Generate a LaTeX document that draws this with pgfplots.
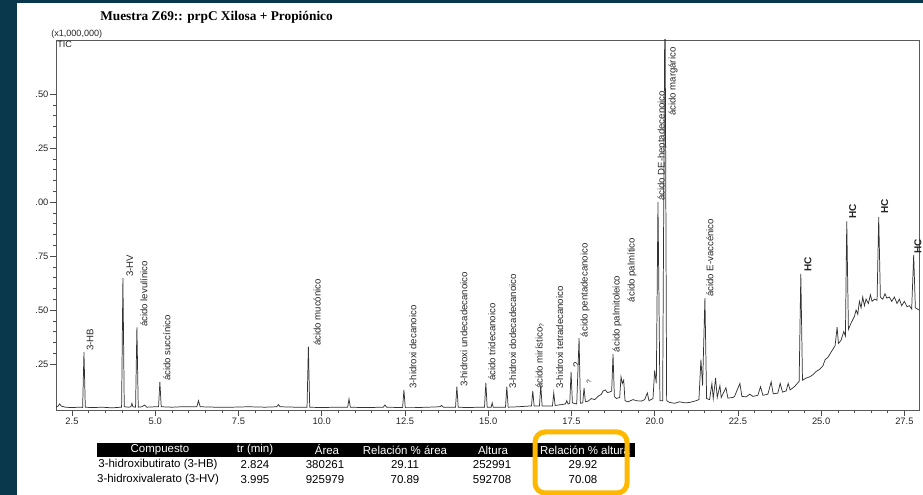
\documentclass[border=0pt]{standalone}
\usepackage{fontspec}
\setmainfont{Liberation Sans}
\newfontfamily\seriffont{Liberation Serif}
\usepackage{pgfplots}
\pgfplotsset{compat=1.18}
\definecolor{framecol}{RGB}{9,56,76}
\definecolor{gold}{RGB}{255,184,0}
\tikzset{
  lbl/.style={rotate=90, anchor=west, inner sep=0.6pt, font=\fontsize{7.2}{8}\selectfont, text=black!85},
  hc/.style={rotate=90, anchor=west, inner sep=0.6pt, font=\bfseries\fontsize{7.5}{8}\selectfont, text=black!85},
}
\begin{document}
\begin{tikzpicture}[x=0.75pt,y=0.75pt]
\useasboundingbox (0,0) rectangle (923,495);
\fill[framecol] (0,0) rectangle (923,495);
\fill[white] (17,0) rectangle (923,{495-3});
\node[font=\seriffont\bfseries\fontsize{10}{12}\selectfont, anchor=west, inner sep=0pt] at (100,{495-17.5}) {Muestra Z69:: prpC Xilosa + Propiónico};
\node[font=\fontsize{6.8}{7}\selectfont, anchor=west, inner sep=0pt, text=black!85] at (51,{495-34}) {(x1,000,000)};
\coordinate (AO) at (56,85);
\begin{axis}[
  at={(AO)}, anchor=south west,
  scale only axis, width=647.25pt, height=277.5pt,
  xmin=2.02, xmax=27.94, ymin=0.037, ymax=1.75,
  axis line style={black!65, line width=0.5pt},
  xtick={2.5,5,7.5,10,12.5,15,17.5,20,22.5,25,27.5},
  xticklabels={2.5,5.0,7.5,10.0,12.5,15.0,17.5,20.0,22.5,25.0,27.5},
  minor x tick num=4,
  ytick={0.25,0.5,0.75,1,1.25,1.5},
  yticklabels={.25,.50,.75,.00,.25,.50},
  minor y tick num=4,
  tick pos=left, tick align=outside,
  major tick length=4.5pt, minor tick length=2.3pt,
  tick style={black!70, line width=0.4pt},
  ticklabel style={font=\fontsize{7}{8}\selectfont, text=black!85},
  yticklabel style={inner sep=1pt},
  xticklabel style={inner sep=1.5pt},
]
\addplot[black!80, line width=0.55pt] coordinates {
(2.02,0.050) (2.08,0.055) (2.13,0.065) (2.18,0.055) (2.30,0.050) (2.50,0.048) (2.70,0.050) (2.82,0.049)
(2.86,0.305) (2.90,0.050) (3.10,0.048) (3.40,0.050) (3.70,0.047) (3.99,0.050) (4.03,0.648) (4.07,0.052)
(4.20,0.050) (4.27,0.052) (4.30,0.068) (4.33,0.052) (4.41,0.050) (4.45,0.420) (4.49,0.050) (4.60,0.052)
(4.68,0.060) (4.75,0.050) (5.00,0.052) (5.10,0.052) (5.14,0.167) (5.18,0.052) (5.50,0.050) (5.80,0.052)
(6.25,0.052) (6.30,0.080) (6.35,0.052) (6.80,0.050) (7.30,0.050) (7.80,0.052) (8.30,0.050) (8.65,0.052)
(8.70,0.062) (8.75,0.052) (9.20,0.050) (9.56,0.050) (9.60,0.330) (9.64,0.050) (10.00,0.048) (10.40,0.050)
(10.78,0.050) (10.82,0.088) (10.86,0.050) (11.30,0.048) (11.85,0.050) (11.90,0.060) (11.95,0.050)
(12.43,0.048) (12.47,0.130) (12.51,0.048) (12.80,0.048) (13.20,0.050) (13.55,0.052) (13.60,0.058)
(13.65,0.050) (14.02,0.050) (14.06,0.145) (14.10,0.050) (14.40,0.048) (14.70,0.050) (14.89,0.050)
(14.93,0.162) (14.97,0.050) (15.09,0.050) (15.12,0.070) (15.15,0.050) (15.52,0.050) (15.56,0.145)
(15.60,0.050) (15.90,0.052) (16.20,0.055) (16.30,0.055) (16.34,0.125) (16.38,0.055) (16.54,0.055)
(16.58,0.153) (16.62,0.055) (16.80,0.055) (16.93,0.055) (16.97,0.116) (17.01,0.058) (17.20,0.062)
(17.32,0.065) (17.36,0.080) (17.40,0.065) (17.45,0.068) (17.49,0.213) (17.53,0.070) (17.66,0.065)
(17.73,0.370) (17.77,0.068) (17.84,0.070) (17.88,0.139) (17.92,0.075) (18.00,0.078) (18.10,0.090)
(18.20,0.085) (18.30,0.100) (18.40,0.110) (18.45,0.125) (18.52,0.130) (18.58,0.118) (18.65,0.120)
(18.71,0.125) (18.75,0.296) (18.79,0.100) (18.85,0.090) (18.95,0.095) (18.99,0.190) (19.03,0.160)
(19.07,0.175) (19.11,0.080) (19.20,0.075) (19.35,0.085) (19.45,0.080) (19.60,0.078) (19.70,0.085)
(19.78,0.116) (19.83,0.080) (19.95,0.090) (20.00,0.220) (20.05,0.160) (20.10,1.000) (20.16,0.080)
(20.24,0.080) (20.31,2.000) (20.36,0.080) (20.45,0.072) (20.60,0.068) (20.75,0.075) (20.90,0.070)
(21.05,0.072) (21.20,0.078) (21.33,0.085) (21.39,0.270) (21.44,0.150) (21.51,0.555) (21.56,0.090)
(21.65,0.085) (21.72,0.160) (21.76,0.090) (21.83,0.185) (21.88,0.095) (21.96,0.150) (22.00,0.095)
(22.14,0.140) (22.20,0.092) (22.35,0.095) (22.40,0.100) (22.56,0.160) (22.62,0.100) (22.75,0.098)
(22.86,0.110) (22.95,0.100) (23.10,0.105) (23.18,0.145) (23.25,0.105) (23.40,0.110) (23.50,0.167)
(23.56,0.112) (23.70,0.115) (23.77,0.160) (23.84,0.120) (23.95,0.125) (24.01,0.160) (24.07,0.130)
(24.20,0.145) (24.34,0.170) (24.39,0.667) (24.44,0.175) (24.55,0.185) (24.65,0.190) (24.75,0.200)
(24.85,0.215) (24.95,0.225) (25.05,0.240) (25.12,0.270) (25.20,0.280) (25.28,0.300) (25.36,0.320)
(25.42,0.335) (25.48,0.420) (25.52,0.345) (25.60,0.360) (25.68,0.400) (25.73,0.380) (25.77,0.910)
(25.82,0.410) (25.90,0.440) (26.00,0.470) (26.05,0.500) (26.10,0.480) (26.15,0.540) (26.20,0.510)
(26.25,0.560) (26.30,0.520) (26.35,0.550) (26.42,0.530) (26.48,0.570) (26.53,0.540) (26.60,0.550)
(26.68,0.545) (26.73,0.930) (26.78,0.560) (26.85,0.550) (26.92,0.575) (26.97,0.555) (27.05,0.560)
(27.12,0.540) (27.20,0.560) (27.28,0.530) (27.35,0.550) (27.42,0.520) (27.50,0.540) (27.58,0.515)
(27.65,0.520) (27.72,0.505) (27.78,0.755) (27.83,0.510) (27.94,0.500)
};
\node[lbl] at (axis cs:3.04,0.306) {3-HB};
\node[lbl] at (axis cs:4.24,0.648) {3-HV};
\node[lbl] at (axis cs:4.66,0.417) {ácido levulínico};
\node[lbl] at (axis cs:5.35,0.167) {ácido succínico};
\node[lbl] at (axis cs:9.86,0.329) {ácido mucónico};
\node[lbl] at (axis cs:12.74,0.130) {3-hidroxi decanoico};
\node[lbl] at (axis cs:14.27,0.139) {3-hidroxi undecadecanoico};
\node[lbl] at (axis cs:15.11,0.167) {ácido tridecanoico};
\node[lbl] at (axis cs:15.74,0.130) {3-hidroxi dodecadecanoico};
\node[lbl] at (axis cs:16.55,0.130) {ácido mirístico\textsubscript{?}};
\node[lbl] at (axis cs:17.15,0.130) {3-hidroxi tetradecanoico};
\node[lbl] at (axis cs:17.66,0.231) {?};
\node[lbl] at (axis cs:17.91,0.370) {ácido pentadecanoico};
\node[lbl, font=\fontsize{5}{6}\selectfont] at (axis cs:18.03,0.153) {?};
\node[lbl] at (axis cs:18.87,0.300) {ácido palmitoleico};
\node[lbl] at (axis cs:19.32,0.532) {ácido palmítico};
\node[lbl] at (axis cs:20.22,1.000) {ácido DE-heptadecenoico};
\node[lbl] at (axis cs:20.55,1.394) {ácido margárico};
\node[lbl] at (axis cs:21.66,0.556) {ácido E-vaccénico};
\node[hc] at (axis cs:24.60,0.671) {HC};
\node[hc] at (axis cs:25.95,0.917) {HC};
\node[hc] at (axis cs:26.91,0.940) {HC};
\end{axis}
\node[font=\fontsize{6.8}{7}\selectfont, anchor=west, inner sep=0pt, text=black!85] at (57,{495-44}) {TIC};
\node[hc] at (918,{495-255}) {HC};
% table
\fill[black] (97,{495-443}) rectangle (635,{495-457});
\begin{scope}[every node/.style={font=\fontsize{8.6}{9}\selectfont, inner sep=0pt}]
\node[text=white] at (160,{495-450}) {Compuesto};
\node[text=white] at (255,{495-450}) {tr (min)};
\node[text=white] at (327,{495-450}) {Área};
\node[text=white] at (405,{495-450}) {Relación \% área};
\node[text=white] at (493,{495-450}) {Altura};
\node[text=white] at (585,{495-450}) {Relación \% altura};
\node at (158,{495-465}) {3-hidroxibutirato (3-HB)};
\node at (255,{495-465}) {2.824};
\node at (325,{495-465}) {380261};
\node at (405,{495-465}) {29.11};
\node at (492,{495-465}) {252991};
\node at (583,{495-465}) {29.92};
\node at (158,{495-480}) {3-hidroxivalerato (3-HV)};
\node at (255,{495-480}) {3.995};
\node at (325,{495-480}) {925979};
\node at (405,{495-480}) {70.89};
\node at (492,{495-480}) {592708};
\node at (583,{495-480}) {70.08};
\end{scope}
\draw[gold, line width=3.75pt, rounded corners=7.5pt] (535,{495-432}) rectangle (627,{495-493});
\end{tikzpicture}
\end{document}
